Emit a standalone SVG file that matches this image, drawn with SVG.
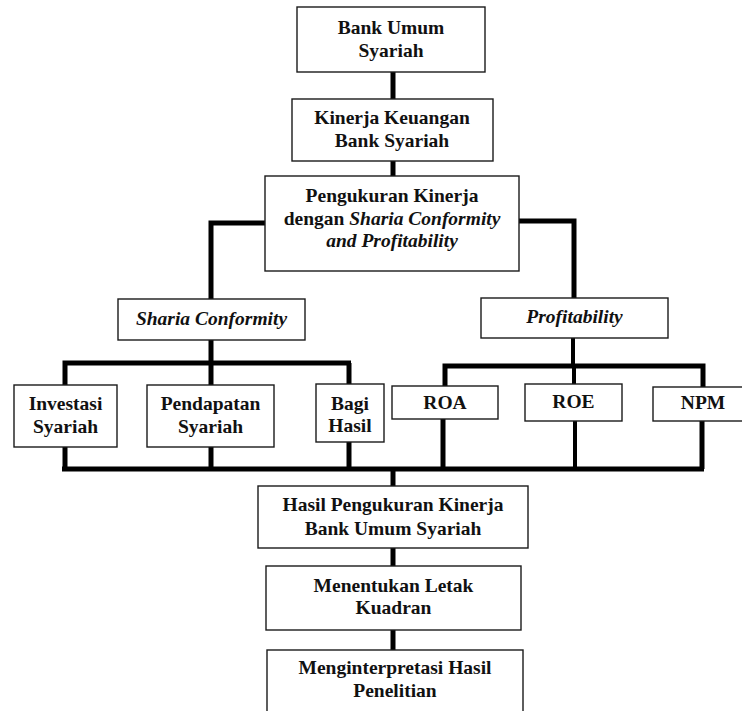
<svg xmlns="http://www.w3.org/2000/svg" width="742" height="711" viewBox="0 0 742 711">
<style>
.box{fill:#fff;stroke:#1a1a1a;stroke-width:1.4}
.t{font-family:"Liberation Serif","Times New Roman",serif;font-size:19.5px;font-weight:bold;fill:#111;text-anchor:middle}
.i{font-style:italic}
.c{fill:none;stroke:#000;stroke-width:5;stroke-linejoin:miter;stroke-linecap:butt}
</style>
<rect width="742" height="711" fill="#fff"/>
<g id="connectors">
<path class="c" d="M393,72 V99"/>
<path class="c" d="M393,161 V176"/>
<path class="c" d="M265,223 H211 V299"/>
<path class="c" d="M519,221 H574 V298"/>
<path class="c" d="M211,340 V363"/>
<path class="c" d="M65,385 V363 H351"/>
<path class="c" d="M211,363 V385"/>
<path class="c" d="M349,363 V384"/>
<path class="c" d="M573,338 V366" style="stroke-width:4"/>
<path class="c" d="M445,386 V366 H703 V387"/>
<path class="c" d="M574,366 V384" style="stroke-width:4"/>
<path class="c" d="M65,447 V469"/>
<path class="c" d="M211,447 V469"/>
<path class="c" d="M349,442 V469"/>
<path class="c" d="M443,419 V469"/>
<path class="c" d="M575,421 V469" style="stroke-width:4"/>
<path class="c" d="M702,421 V469"/>
<path class="c" d="M62,469 H704"/>
<path class="c" d="M393,469 V486"/>
<path class="c" d="M393,548 V566"/>
<path class="c" d="M393,630 V650"/>
</g>
<g id="bank-umum-syariah">
<rect class="box" x="297" y="7" width="188" height="65"/>
<text class="t" x="391" y="34">Bank Umum</text>
<text class="t" x="391" y="57">Syariah</text>
</g>
<g id="kinerja-keuangan">
<rect class="box" x="292" y="99" width="201" height="62"/>
<text class="t" x="392" y="124">Kinerja Keuangan</text>
<text class="t" x="392" y="147">Bank Syariah</text>
</g>
<g id="pengukuran-kinerja">
<rect class="box" x="265" y="176" width="254" height="95"/>
<text class="t" x="392" y="202">Pengukuran Kinerja</text>
<text class="t" x="392" y="225">dengan <tspan class="i">Sharia Conformity</tspan></text>
<text class="t i" x="392" y="247">and Profitability</text>
</g>
<g id="sharia-conformity">
<rect class="box" x="118" y="299" width="187" height="41"/>
<text class="t i" x="211.5" y="325">Sharia Conformity</text>
</g>
<g id="profitability">
<rect class="box" x="481" y="298" width="187" height="40"/>
<text class="t i" x="574.5" y="323">Profitability</text>
</g>
<g id="investasi-syariah">
<rect class="box" x="14" y="385" width="103" height="62"/>
<text class="t" x="65.5" y="410">Investasi</text>
<text class="t" x="65.5" y="433">Syariah</text>
</g>
<g id="pendapatan-syariah">
<rect class="box" x="147" y="385" width="127" height="62"/>
<text class="t" x="210.5" y="410">Pendapatan</text>
<text class="t" x="210.5" y="433">Syariah</text>
</g>
<g id="bagi-hasil">
<rect class="box" x="316" y="384" width="68" height="58"/>
<text class="t" x="350" y="410">Bagi</text>
<text class="t" x="350" y="432">Hasil</text>
</g>
<g id="roa">
<rect class="box" x="392" y="386" width="106" height="33"/>
<text class="t" x="445" y="409">ROA</text>
</g>
<g id="roe">
<rect class="box" x="525" y="384" width="97" height="37"/>
<text class="t" x="573.5" y="408">ROE</text>
</g>
<g id="npm">
<rect class="box" x="653" y="387" width="100" height="34"/>
<text class="t" x="703" y="409">NPM</text>
</g>
<g id="hasil-pengukuran">
<rect class="box" x="258" y="486" width="270" height="62"/>
<text class="t" x="393" y="511">Hasil Pengukuran Kinerja</text>
<text class="t" x="393" y="535">Bank Umum Syariah</text>
</g>
<g id="menentukan-kuadran">
<rect class="box" x="266" y="566" width="255" height="64"/>
<text class="t" x="393.5" y="592">Menentukan Letak</text>
<text class="t" x="393.5" y="614">Kuadran</text>
</g>
<g id="menginterpretasi">
<rect class="box" x="267" y="650" width="256" height="80"/>
<text class="t" x="395" y="674">Menginterpretasi Hasil</text>
<text class="t" x="395" y="697">Penelitian</text>
</g>
</svg>
